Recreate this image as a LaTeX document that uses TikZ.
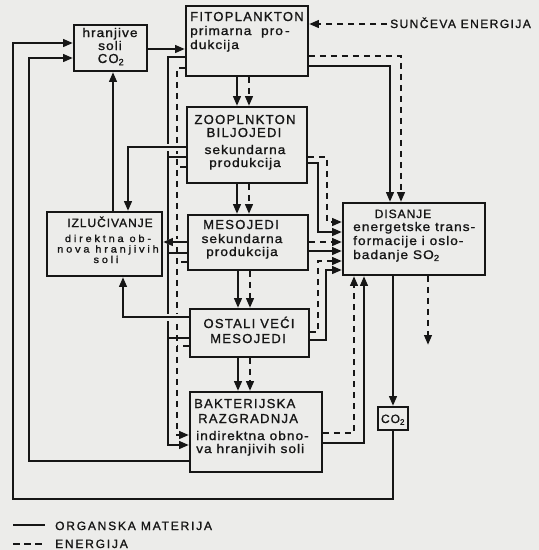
\documentclass[tikz,border=0pt]{standalone}
\usepackage{fontspec}
\setmainfont{Liberation Sans}
\newfontfamily\capf[LetterSpace=10,FakeBold=1.2]{Liberation Sans}
\newfontfamily\capg[LetterSpace=8,FakeBold=1.2]{Liberation Sans}
\newfontfamily\lowf[LetterSpace=8,FakeStretch=1.1,FakeBold=1.2]{Liberation Sans}
\newfontfamily\lowtight[LetterSpace=28,FakeStretch=1.1,FakeBold=1.2]{Liberation Sans}
\newfontfamily\sunf[LetterSpace=12,FakeBold=1.2]{Liberation Sans}
\newfontfamily\legf[LetterSpace=15,FakeBold=1.2]{Liberation Sans}
\usetikzlibrary{arrows.meta,backgrounds}
\definecolor{paper}{RGB}{236,236,234}
\definecolor{ink}{RGB}{22,22,22}
\begin{document}
\begin{tikzpicture}[x=1pt,y=-1pt,
  box/.style={draw=ink, line width=1.9pt, inner sep=0pt},
  con/.style={draw=ink, line width=2.6pt},
  en/.style={draw=ink, line width=2.6pt, dash pattern=on 6.5pt off 4.5pt},
  tip/.style={-{Triangle[length=10pt,width=7.5pt]}},
  gap/.style={preaction={draw=paper, line width=7pt}},
  capt/.style={inner sep=0pt, text=ink, font=\capf\fontsize{13}{15}\selectfont},
  caps/.style={inner sep=0pt, text=ink, font=\capg\fontsize{12}{14}\selectfont},
  low/.style={inner sep=0pt, text=ink, font=\lowf\fontsize{12.5}{14}\selectfont},
  lowt/.style={inner sep=0pt, text=ink, font=\lowtight\fontsize{10}{10}\selectfont},
  sunt/.style={inner sep=0pt, text=ink, font=\sunf\fontsize{12}{14}\selectfont},
  leg/.style={inner sep=0pt, text=ink, font=\legf\fontsize{12}{14}\selectfont},
]
\useasboundingbox (0,0) rectangle (539,550);

% ---------- boxes ----------
\node[box, minimum width=73pt,  minimum height=46pt] (hran) at (110.5,48)  {};
\node[box, minimum width=122pt, minimum height=70pt] (fito) at (247,41)    {};
\node[box, minimum width=120pt, minimum height=76pt] (zoo)  at (247,145)   {};
\node[box, minimum width=115pt, minimum height=64pt] (izl)  at (104.5,244) {};
\node[box, minimum width=120pt, minimum height=55pt] (mes)  at (248,242.5) {};
\node[box, minimum width=119pt, minimum height=48pt] (ost)  at (249.5,333) {};
\node[box, minimum width=132pt, minimum height=80pt] (bak)  at (256,432)   {};
\node[box, minimum width=142pt, minimum height=72pt] (dis)  at (414,239)   {};
\node[box, minimum width=30pt,  minimum height=23pt] (co2)  at (393,418.5) {};

% ---------- texts ----------
\node[low,  anchor=base] (hran1) at (110,37) {hranjive};
\node[low,  anchor=base] (hran2) at (110,50) {soli};
\node[capt, anchor=base] (hran3) at (111,63) {CO\textsubscript{2}};

\node[capt, anchor=base west] (fito1) at (190,21) {FITOPLANKTON};
\node[low,  anchor=base west] (fito2) at (190,35) {primarna\ \ pro\,-};
\node[low,  anchor=base west] (fito3) at (190,49) {dukcija};

\node[capt, anchor=base] (zoo1) at (245,124) {ZOOPLNKTON};
\node[capt, anchor=base] (zoo2) at (244,137) {BILJOJEDI};
\node[low,  anchor=base] (zoo3) at (245,154) {sekundarna};
\node[low,  anchor=base] (zoo4) at (245,167) {produkcija};

\node[caps, anchor=base] (izl1) at (110,227) {IZLUČIVANJE};
\node[lowt, anchor=base] (izl2) at (108,242) {direktna ob-};
\node[lowt, anchor=base] (izl3) at (108,252.5) {nova hranjivih};
\node[lowt, anchor=base] (izl4) at (106,263) {soli};

\node[capt, anchor=base] (mes1) at (241,229) {MESOJEDI};
\node[low,  anchor=base] (mes2) at (242,243) {sekundarna};
\node[low,  anchor=base] (mes3) at (242,256) {produkcija};

\node[capt, anchor=base] (ost1) at (249,328) {OSTALI VEĆI};
\node[capt, anchor=base] (ost2) at (248,343) {MESOJEDI};

\node[capt, anchor=base west] (bak1) at (194,408) {BAKTERIJSKA};
\node[capt, anchor=base west] (bak2) at (198,423) {RAZGRADNJA};
\node[low,  anchor=base west] (bak3) at (196,440) {indirektna obno-};
\node[low,  anchor=base west] (bak4) at (196,453) {va hranjivih soli};

\node[caps, anchor=base] (dis1) at (403,218) {DISANJE};
\node[low,  anchor=base west] (dis2) at (353,231) {energetske trans-};
\node[low,  anchor=base west] (dis3) at (353,245) {formacije i oslo-};
\node[low,  anchor=base west] (dis4) at (353,259) {badanje SO\textsubscript{2}};

\node[caps, anchor=base] (co2t) at (393,423) {CO\textsubscript{2}};

\node[sunt, anchor=base west] (sun) at (390,28) {SUNČEVA ENERGIJA};
\coordinate (sunend) at (387,24);
\coordinate (heat) at (428,345);

% ---------- legend ----------
\coordinate (l1a) at (13,525);
\coordinate (l1b) at (45,525);
\coordinate (l2a) at (13,544);
\coordinate (l2b) at (46,544);
\draw[con] (l1a) -- (l1b);
\draw[en]  (l2a) -- (l2b);
\node[leg, anchor=base west] (leg1) at (55,530) {ORGANSKA MATERIJA};
\node[leg, anchor=base west] (leg2) at (55,548) {ENERGIJA};

% ---------- connectors ----------
\begin{pgfonlayer}{background}
\fill[paper] (0,0) rectangle (539,550);

\draw[en,tip] (sunend) -- (fito.east |- sunend);
\draw[con,tip] (hran.east |- 0,49) -- (fito.west |- 0,49);

% main food chain
\draw[con,tip] (fito.south -| 237,0) -- (zoo.north -| 237,0);
\draw[en,tip]  (fito.south -| 249,0) -- (zoo.north -| 249,0);
\draw[con,tip] (zoo.south -| 237,0) -- (mes.north -| 237,0);
\draw[en,tip]  (zoo.south -| 249,0) -- (mes.north -| 249,0);
\draw[con,tip] (mes.south -| 238,0) -- (ost.north -| 238,0);
\draw[en,tip]  (mes.south -| 250,0) -- (ost.north -| 250,0);
\draw[con,tip] (ost.south -| 238,0) -- (bak.north -| 238,0);
\draw[en,tip]  (ost.south -| 250,0) -- (bak.north -| 250,0);

% to respiration
\draw[con,tip] (fito.east |- 0,66) -| (dis.north -| 390,0);
\draw[en,tip]  (fito.east |- 0,56) -| (dis.north -| 401,0);
\draw[en,tip]  (zoo.east |- 0,157) -- (327,157) -- (327,222) -- (dis.west |- 0,222);
\draw[con,tip] (zoo.east |- 0,163) -- (318,163) -- (318,232) -- (dis.west |- 0,232);
\draw[en,tip]  (mes.east |- 0,242) -- (dis.west |- 0,242);
\draw[con,tip] (mes.east |- 0,251) -- (dis.west |- 0,251);
\draw[en,tip]  (ost.east |- 0,332) -- (318,332) -- (318,261) -- (dis.west |- 0,261);
\draw[con,tip] (ost.east |- 0,340) -- (326,340) -- (326,270) -- (dis.west |- 0,270);
\draw[en,tip]  (bak.east |- 0,433) -| (dis.south -| 354,0);
\draw[con,tip] (bak.east |- 0,443) -| (dis.south -| 364,0);

% out of respiration
\draw[con,tip] (dis.south -| co2.north) -- (co2.north);
\draw[en,tip]  (dis.south -| heat) -- (heat);
\draw[con,tip] (co2.south) -- (co2.south |- 0,499) -- (13,499) -- (13,43) -- (hran.west |- 0,43);
\draw[con,tip] (bak.west |- 0,461) -- (29,461) -- (29,58) -- (hran.west |- 0,58);

% collectors to bacteria
\draw[con,tip] (fito.west |- 0,57) -- (168,57) -- (168,445) -- (bak.west |- 0,445);
\draw[en,tip]  (fito.west |- 0,68) -- (177,68) -- (177,435) -- (bak.west |- 0,435);
\draw[con] (zoo.west |- 0,157) -- (168,157);
\draw[en]  (zoo.west |- 0,167) -- (177,167);
\draw[con] (mes.west |- 0,253) -- (168,253);
\draw[en]  (mes.west |- 0,262) -- (177,262);
\draw[con] (ost.west |- 0,338) -- (168,338);
\draw[en]  (ost.west |- 0,346) -- (177,346);

% excretion
\draw[con,tip,gap] (zoo.west |- 0,147) -- (128,147) -- (izl.north -| 128,0);
\draw[con,tip,gap] (mes.west |- 0,242) -- (izl.east |- 0,242);
\draw[con,tip,gap] (ost.west |- 0,317) -- (123,317) -- (izl.south -| 123,0);
\draw[con,tip] (izl.north -| 113,0) -- (hran.south -| 113,0);
\end{pgfonlayer}
\end{tikzpicture}
\end{document}
